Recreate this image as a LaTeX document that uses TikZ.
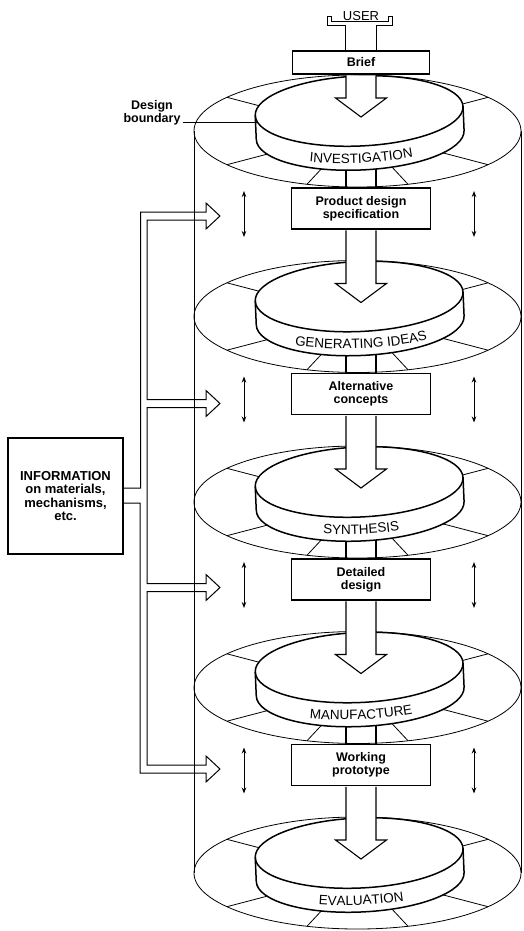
\documentclass[tikz,border=0pt]{standalone}
\usepackage{fontspec}
\setmainfont{Liberation Sans}
\usetikzlibrary{arrows.meta,decorations.text,calc}

\newcommand\stagefont{\fontsize{13.5}{14}\selectfont}

% One stage of the process: ring plane with its segments, the disc on it,
% and the stage name running round the front of the disc.
% #1 = vertical centre of the ring plane, #2 = stage name
\newcommand\designstage[2]{%
  \draw[ringline] (357.5,#1) ellipse [x radius=163.5, y radius=56];
  \foreach \a in {37,72,108,143,217,323}
    \draw[ringline] ({357.5+163.5*cos(\a)},{#1+56*sin(\a)}) -- ({357.5+60*cos(\a)},{#1+20*sin(\a)});
  \begin{scope}[rotate around={2.5:(360,#1)}]
    \path[fill=white] (256,#1-20) arc[start angle=180,end angle=360,x radius=104,y radius=35]
       -- (464,#1+4) arc[start angle=0,end angle=180,x radius=104,y radius=35] -- cycle;
    \draw[discline] (360,#1-20) ellipse [x radius=104,y radius=35];
    \draw[discline] (256,#1-20) -- (256,#1+4)
       arc[start angle=180,end angle=0,x radius=104,y radius=35] -- (464,#1-20);
    \path[decorate,decoration={text along path,text={|\stagefont|#2},text align=center}]
      (256.08,#1+14.5) arc[start angle=150,end angle=30,x radius=120,y radius=35];
  \end{scope}}

\begin{document}
\begin{tikzpicture}[x=1pt,y=-1pt,
  ringline/.style={line width=0.8pt},
  discline/.style={line width=1.5pt},
  cylline/.style={line width=0.8pt},
  shaftline/.style={line width=1.1pt},
  flowarrow/.style={draw,fill=white,line width=1.1pt,line join=miter},
  stagebox/.style={draw,fill=white,line width=1.3pt,minimum width=139pt,minimum height=41pt,
    inner sep=1pt,align=center,font=\bfseries\fontsize{12.5}{13}\selectfont},
  pipeline/.style={line width=1pt,line join=miter},
  dblarrow/.style={line width=1pt,arrows={Stealth[length=6pt,width=4.5pt]-Stealth[length=6pt,width=4.5pt]}}]
\useasboundingbox (0,0) rectangle (524,931);

% design boundary (cylinder walls)
\coordinate (cylTL) at (194,131);
\coordinate (cylBL) at (194,873);
\coordinate (cylTR) at (521,131);
\coordinate (cylBR) at (521,873);
\draw[cylline] (cylTL) -- (cylBL);
\draw[cylline] (cylTR) -- (cylBR);

% arrowhead positions on each disc
\foreach \k/\cy in {1/131,2/316.5,3/502,4/687.5,5/873}{
  \coordinate (h\k) at (361,\cy-33);
  \coordinate (t\k) at (361,\cy-14);
}

% output of each stage
\node[stagebox] (b1) at (361,208.5) {Product design\\specification};
\node[stagebox] (b2) at (361,394) {Alternative\\concepts};
\node[stagebox] (b3) at (361,579.5) {Detailed\\design};
\node[stagebox] (b4) at (361,765) {Working\\prototype};
\node[stagebox,minimum width=137pt,minimum height=23pt] (b0) at (361,62.5) {Brief};

% flow leaving each disc into its output box
\foreach \k in {1,...,4}{
  \draw[shaftline] ([xshift=-15pt]b\k.north) -- ++(0,-30);
  \draw[shaftline] ([xshift=15pt]b\k.north) -- ++(0,-30);
}

% the five stages
\designstage{131}{INVESTIGATION}
\designstage{316.5}{GENERATING IDEAS}
\designstage{502}{SYNTHESIS}
\designstage{687.5}{MANUFACTURE}
\designstage{873}{EVALUATION}

% broad arrows feeding each stage
\foreach \p/\k in {b0/1,b1/2,b2/3,b3/4,b4/5}{
  \path[flowarrow] ([xshift=-15pt,yshift=-0.7pt]\p.south) -- ([xshift=-15pt]h\k)
    -- ([xshift=-25.5pt]h\k) -- (t\k) -- ([xshift=25.5pt]h\k) -- ([xshift=15pt]h\k)
    -- ([xshift=15pt,yshift=-0.7pt]\p.south);
}

% user input
\node[font=\fontsize{13}{13}\selectfont,anchor=base,inner sep=0pt] (user) at (361,20.5) {USER};
\draw[pipeline] ([xshift=-16pt]b0.north) -- ++(0,-25) -- ++(-17.7,0) -- ++(0,-9.3) -- ++(4.4,0)
  -- ++(0,5) -- ++(56.6,0) -- ++(0,-5) -- ++(4.4,0) -- ++(0,9.3) -- ++(-16,0)
  -- ([xshift=15.7pt]b0.north);

% iteration within the design boundary
\foreach \k/\cy in {1/131,2/316.5,3/502,4/687.5}{
  \coordinate (la\k) at (244,\cy+60);
  \coordinate (lb\k) at (244,\cy+106);
  \coordinate (ra\k) at (474,\cy+60);
  \coordinate (rb\k) at (474,\cy+106);
  \draw[dblarrow] (la\k) -- (lb\k);
  \draw[dblarrow] (ra\k) -- (rb\k);
}

% information supply
\node[draw,line width=1.3pt,minimum width=115pt,minimum height=116pt,inner sep=2pt,align=center,
  font=\bfseries\fontsize{13}{13.5}\selectfont] (info) at (65.5,496)
  {INFORMATION\\on materials,\\mechanisms,\\etc.};
\coordinate (a1) at (220,216);
\coordinate (a2) at (220,403.5);
\coordinate (a3) at (220,587.5);
\coordinate (a4) at (220,769);
\draw[pipeline] ($(info.east)+(0,-8)$) -- ++(17,0) |- ($(a1)+(-14,-4)$) -- ++(0,-9) -- (a1)
  -- ++(-14,13) -- ++(0,-9) -- ++(-59,0) |- ($(a2)+(-14,-4)$) -- ++(0,-9) -- (a2)
  -- ++(-14,13) -- ++(0,-9) -- ++(-59,0) |- ($(a3)+(-14,-4)$) -- ++(0,-9) -- (a3)
  -- ++(-14,13) -- ++(0,-9) -- ++(-59,0) |- ($(a4)+(-14,-4)$) -- ++(0,-9) -- (a4)
  -- ++(-14,13) -- ++(0,-9) -- ++(-66,0) |- ($(info.east)+(0,7)$);

% design boundary label
\node[font=\bfseries\fontsize{12.5}{13}\selectfont,align=center,inner sep=2pt] (db) at (152,113) {Design\\boundary};
\coordinate (dbend) at (257,122);
\draw[ringline] (db.east |- dbend) -- (dbend);
\end{tikzpicture}
\end{document}
